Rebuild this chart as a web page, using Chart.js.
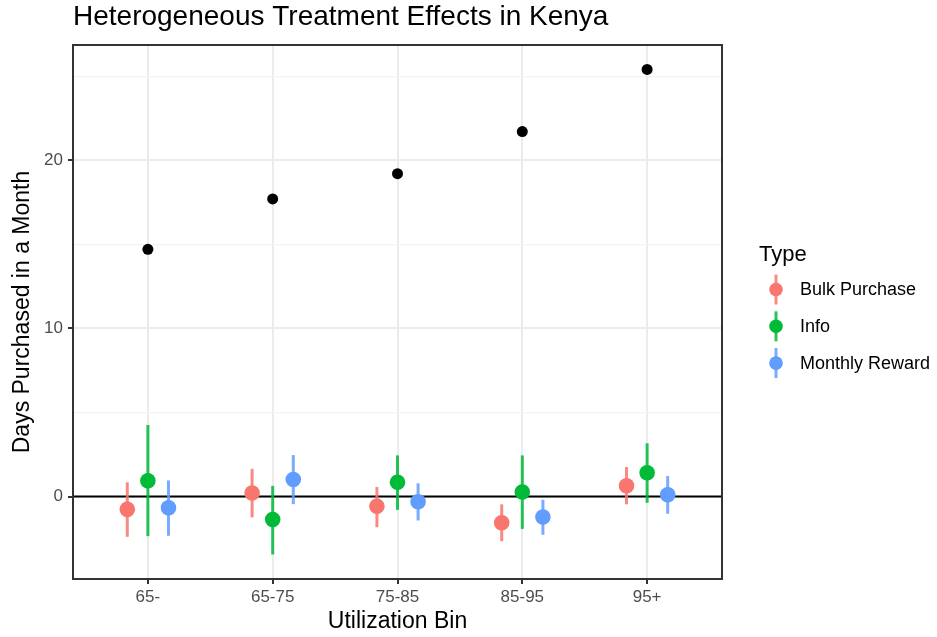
<!DOCTYPE html>
<html>
<head>
<meta charset="utf-8">
<script src="https://cdn.jsdelivr.net/npm/chart.js@4"></script>
<style>
  html, body { margin: 0; padding: 0; background: #fff; }
  #wrap { width: 937px; height: 637px; }
</style>
</head>
<body>
<div id="wrap"><canvas id="hte" width="937" height="637"></canvas></div>
<script>
// utilization bins on the x axis
const bins = ['65-', '65-75', '75-85', '85-95', '95+'];

// control group level (black dots)
const baseline = [14.7, 17.7, 19.2, 21.7, 25.4];

// treatment effects with interval bounds
const bulkEst = [-0.76, 0.21, -0.58, -1.56, 0.64];
const bulkLo  = [-2.39, -1.24, -1.82, -2.65, -0.46];
const bulkHi  = [0.85, 1.65, 0.57, -0.46, 1.76];

const infoEst = [0.94, -1.36, 0.85, 0.27, 1.42];
const infoLo  = [-2.35, -3.44, -0.79, -1.92, -0.37];
const infoHi  = [4.26, 0.64, 2.45, 2.45, 3.17];

const rewardEst = [-0.67, 1.02, -0.31, -1.22, 0.11];
const rewardLo  = [-2.33, -0.45, -1.42, -2.27, -1.02];
const rewardHi  = [0.96, 2.47, 0.79, -0.19, 1.22];

const yTicks = [0, 5, 10, 15, 20, 25];

const FONT = '"Liberation Sans", Arial, Helvetica, sans-serif';
const RED = '#F8766D', GREEN = '#00BA38', BLUE = '#619CFF';
const dodge = 0.165;

function pts(vals, shift) {
    return vals.map((v, i) => ({ x: i + shift, y: v }));
}

// vertical interval lines + the zero reference line, under the points
const intervals = {
    id: 'intervals',
    beforeDatasetsDraw(chart) {
        const { ctx, chartArea, scales: { y } } = chart;
        ctx.save();
        const y0 = y.getPixelForValue(0);
        ctx.strokeStyle = '#000';
        ctx.lineWidth = 2;
        ctx.beginPath();
        ctx.moveTo(chartArea.left, y0);
        ctx.lineTo(chartArea.right, y0);
        ctx.stroke();

        chart.data.datasets.forEach((ds, di) => {
            if (!ds.lo) return;
            const meta = chart.getDatasetMeta(di);
            ctx.strokeStyle = ds.lineColor;
            ctx.lineWidth = 3;
            meta.data.forEach((pt, i) => {
                ctx.beginPath();
                ctx.moveTo(pt.x, y.getPixelForValue(ds.lo[i]));
                ctx.lineTo(pt.x, y.getPixelForValue(ds.hi[i]));
                ctx.stroke();
            });
        });
        ctx.restore();
    }
};

// panel border, title and the "Type" legend
const decor = {
    id: 'decor',
    afterDraw(chart) {
        const { ctx, chartArea: a } = chart;
        ctx.save();
        ctx.strokeStyle = '#333333';
        ctx.lineWidth = 2;
        ctx.strokeRect(a.left, a.top, a.right - a.left, a.bottom - a.top);

        ctx.fillStyle = '#000';
        ctx.textBaseline = 'alphabetic';
        ctx.textAlign = 'left';
        ctx.font = '28px ' + FONT;
        ctx.fillText('Heterogeneous Treatment Effects in Kenya', a.left, 25);

        ctx.font = '22px ' + FONT;
        ctx.fillText('Type', 759, 261);

        const items = [
            ['Bulk Purchase', RED, 'rgba(248,118,109,0.85)'],
            ['Info', GREEN, 'rgba(0,186,56,0.85)'],
            ['Monthly Reward', BLUE, 'rgba(97,156,255,0.85)']
        ];
        ctx.font = '18px ' + FONT;
        ctx.textBaseline = 'middle';
        items.forEach(([label, col, lineCol], k) => {
            const cy = 289.5 + k * 36.8;
            const cx = 776;
            ctx.strokeStyle = lineCol;
            ctx.lineWidth = 3;
            ctx.beginPath();
            ctx.moveTo(cx, cy - 15);
            ctx.lineTo(cx, cy + 15);
            ctx.stroke();
            ctx.fillStyle = col;
            ctx.beginPath();
            ctx.arc(cx, cy, 6.8, 0, Math.PI * 2);
            ctx.fill();
            ctx.fillStyle = '#000';
            ctx.fillText(label, 800, cy + 1);
        });
        ctx.restore();
    }
};

const ctx = document.getElementById('hte').getContext('2d');
const chart = new Chart(ctx, {
    type: 'scatter',
    data: {
        datasets: [
            {
                label: 'Control',
                data: pts(baseline, 0),
                backgroundColor: '#000',
                borderWidth: 0,
                pointRadius: 5.5
            },
            {
                label: 'Bulk Purchase',
                data: pts(bulkEst, -dodge),
                lo: bulkLo, hi: bulkHi,
                lineColor: 'rgba(248,118,109,0.85)',
                backgroundColor: RED,
                borderWidth: 0,
                pointRadius: 7.8
            },
            {
                label: 'Info',
                data: pts(infoEst, 0),
                lo: infoLo, hi: infoHi,
                lineColor: 'rgba(0,186,56,0.85)',
                backgroundColor: GREEN,
                borderWidth: 0,
                pointRadius: 7.8
            },
            {
                label: 'Monthly Reward',
                data: pts(rewardEst, dodge),
                lo: rewardLo, hi: rewardHi,
                lineColor: 'rgba(97,156,255,0.85)',
                backgroundColor: BLUE,
                borderWidth: 0,
                pointRadius: 7.8
            }
        ]
    },
    options: {
        responsive: false,
        animation: false,
        devicePixelRatio: 1,
        layout: { padding: { top: 45, right: 215, bottom: 0, left: 0 } },
        plugins: {
            legend: { display: false },
            tooltip: { enabled: false },
            title: { display: false }
        },
        scales: {
            x: {
                type: 'linear',
                min: -0.6,
                max: 4.6,
                afterBuildTicks: (s) => { s.ticks = bins.map((b, i) => ({ value: i })); },
                afterFit: (s) => { s.height = 58; },
                border: { display: false },
                grid: {
                    color: '#EBEBEB',
                    lineWidth: 2,
                    tickColor: '#333333',
                    tickLength: 5
                },
                ticks: {
                    callback: (v) => bins[v],
                    color: '#4D4D4D',
                    font: { family: FONT, size: 17 },
                    padding: 3,
                    maxRotation: 0
                },
                title: {
                    display: true,
                    text: 'Utilization Bin',
                    color: '#000',
                    font: { family: FONT, size: 23 },
                    padding: { top: 0, bottom: 2 }
                }
            },
            y: {
                min: -4.9,
                max: 26.85,
                afterBuildTicks: (s) => { s.ticks = yTicks.map(v => ({ value: v })); },
                afterFit: (s) => { s.width = 73; },
                border: { display: false },
                grid: {
                    color: (c) => (c.tick && c.tick.value % 10 === 0) ? '#EBEBEB' : '#F3F3F3',
                    lineWidth: (c) => (c.tick && c.tick.value % 10 === 0) ? 2 : 1.2,
                    tickColor: (c) => (c.tick && c.tick.value % 10 === 0) ? '#333333' : 'rgba(0,0,0,0)',
                    tickLength: 5
                },
                ticks: {
                    callback: (v) => (v % 10 === 0 ? String(v) : ''),
                    color: '#4D4D4D',
                    font: { family: FONT, size: 17 },
                    padding: 5
                },
                title: {
                    display: true,
                    text: 'Days Purchased in a Month',
                    color: '#000',
                    font: { family: FONT, size: 23 },
                    padding: { top: 9, bottom: 0 }
                }
            }
        }
    },
    plugins: [intervals, decor]
});
</script>
</body>
</html>
